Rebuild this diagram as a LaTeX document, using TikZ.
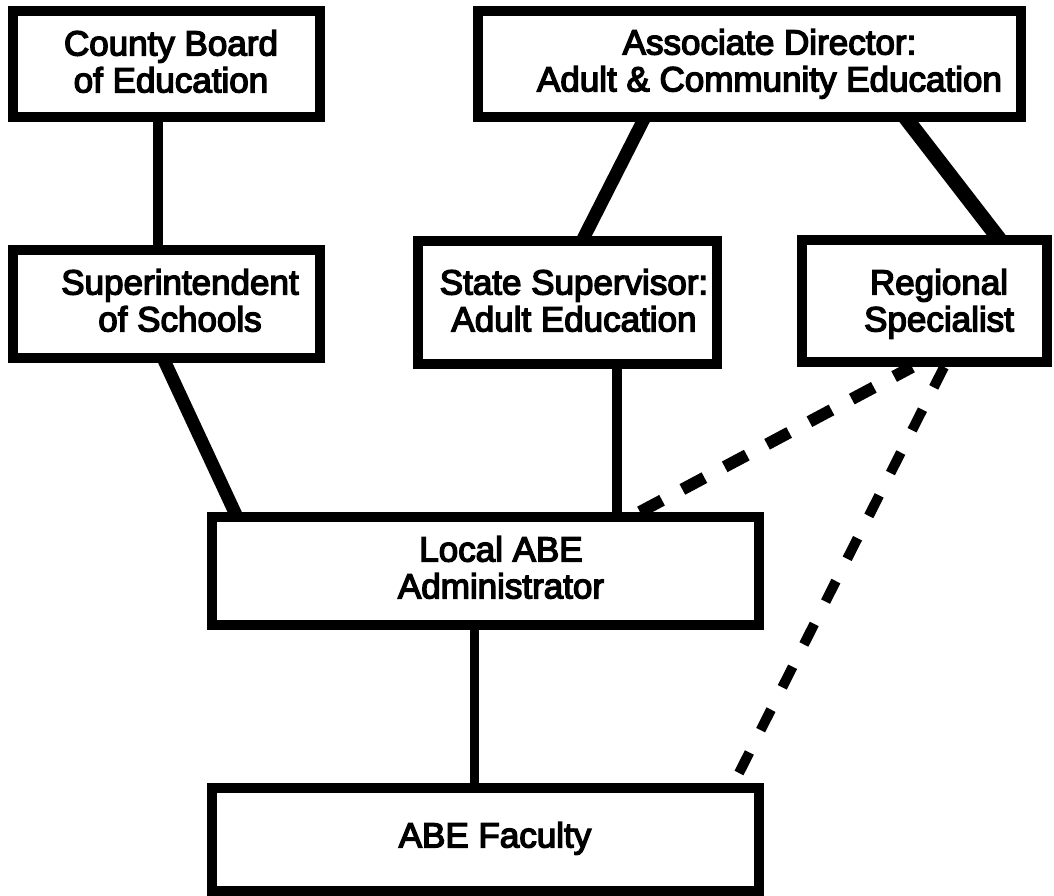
\documentclass[tikz,border=0pt]{standalone}
\usepackage{fontspec}
\setmainfont{Liberation Sans}
\newfontfamily\labfamily{Liberation Sans}[FakeBold=4]
\usetikzlibrary{calc}
\begin{document}
\begin{tikzpicture}[x=1pt,y=-1pt,
  box/.style={draw=black, line width=10pt, rectangle, inner sep=0pt, outer sep=0pt},
  lab/.style={inner sep=0pt, align=center, font=\labfamily\fontsize{35}{35}\selectfont},
  link/.style={draw=black, line cap=butt},
  dlink/.style={draw=black, line cap=butt}
]
\useasboundingbox (0,0) rectangle (1054,896);
\fill[white] (0,0) rectangle (1054,896);

% boxes
\node[box, minimum width=307pt, minimum height=106pt] (county) at (166.5,64) {};
\node[box, minimum width=543pt, minimum height=106pt] (assoc) at (749.5,64) {};
\node[box, minimum width=307pt, minimum height=108pt] (sup) at (166.5,304) {};
\node[box, minimum width=299pt, minimum height=123pt] (state) at (567.5,302.5) {};
\node[box, minimum width=245pt, minimum height=122pt] (reg) at (924.5,301) {};
\node[box, minimum width=547pt, minimum height=108pt] (loc) at (485.5,571) {};
\node[box, minimum width=547pt, minimum height=103pt] (fac) at (485.5,839.5) {};

% labels
\node[lab] (countyT) at ($(county.center)+(4.5,2.5)$) {\strut County Board\\\strut of Education};
\node[lab] (assocT) at ($(assoc.center)+(20,1.5)$) {\strut Associate Director:\\\strut Adult \& Community Education};
\node[lab] (supT) at ($(sup.center)+(13.5,1.5)$) {\strut Superintendent\\\strut of Schools};
\node[lab] (stateT) at ($(state.center)+(6.5,3)$) {\strut State Supervisor:\\\strut Adult Education};
\node[lab] (regT) at ($(reg.center)+(14.5,4.5)$) {\strut Regional\\\strut Specialist};
\node[lab] (locT) at ($(loc.center)+(15.5,1.5)$) {\strut Local ABE\\\strut Administrator};
\node[lab] (facT) at ($(fac.center)+(9.5,0.5)$) {\strut ABE Faculty};

% solid connectors
\draw[link, line width=10pt] ($(county.south west)+(145,0)$) -- ($(sup.north west)+(145,0)$);
\draw[link, line width=13pt] ($(sup.south west)+(150,0)$) -- ($(loc.north west)+(25,0)$);
\draw[link, line width=13pt] ($(assoc.south west)+(167,0)$) -- ($(state.north west)+(164,0)$);
\draw[link, line width=15pt] ($(assoc.south west)+(427,0)$) -- ($(reg.north west)+(198,0)$);
\draw[link, line width=10pt] ($(state.south west)+(199,0)$) -- ($(loc.north west)+(405,0)$);
\draw[link, line width=9pt] ($(loc.south west)+(262,0)$) -- ($(fac.north west)+(262,0)$);

% dashed connectors
\draw[dlink, line width=12pt, dash pattern=on 25pt off 23pt] ($(loc.north west)+(428,-5)$) -- ($(reg.south west)+(110,5)$);
\draw[dlink, line width=10pt, dash pattern=on 23pt off 25pt] ($(fac.north west)+(527,-15)$) -- ($(reg.south west)+(142,5)$);
\end{tikzpicture}
\end{document}
